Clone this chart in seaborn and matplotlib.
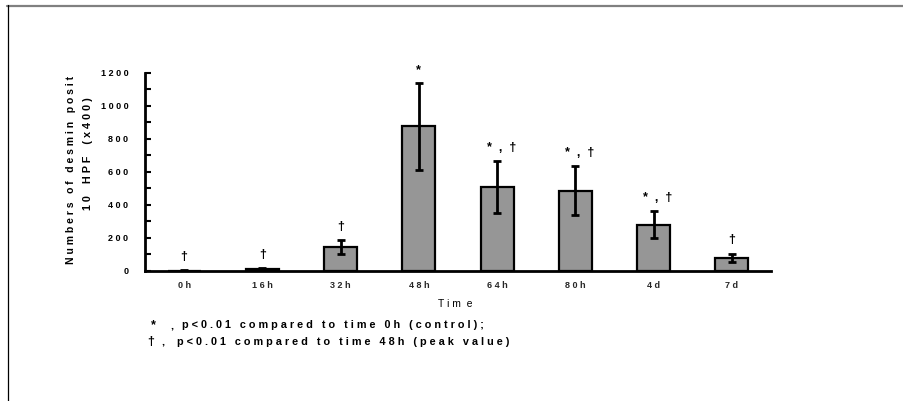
import matplotlib
matplotlib.use("Agg")
import matplotlib.pyplot as plt
import seaborn as sns
import numpy as np
from matplotlib.lines import Line2D
from matplotlib.ticker import MultipleLocator

categories = ["0h", "16h", "32h", "48h", "64h", "80h", "4d", "7d"]
values = [2, 15, 145, 875, 510, 487, 280, 80]
errors = [2, 5, 43, 262, 156, 148, 83, 25]
annotations = ["†", "†", "†", "*", "*  ,  †", "*  ,  †", "*  ,  †", "†"]
ytick_values = [0, 200, 400, 600, 800, 1000, 1200]
ylabel_lines = ["Numbers of desmin posit", "10 HPF (x400)"]
xlabel_text = "T i m  e"
footnote_marks = ["*", "†"]
footnote_texts = ["p<0.01 compared to time 0h (control);",
                  "p<0.01 compared to time 48h (peak value)"]


def spaced(s, sep=" ", word_sep="   "):
    return word_sep.join(sep.join(w) for w in s.split(" "))


sns.set_theme(style="white")
plt.rcParams['font.family'] = ['Liberation Sans', 'DejaVu Sans']

fig = plt.figure(figsize=(9.04, 4.01), dpi=100)
ax = fig.add_axes([145/904, 1-271/401, (771-145)/904, (271-72.7)/401])

sns.barplot(x=[spaced(c) for c in categories], y=values, color="#969696",
            saturation=1, width=0.42, edgecolor="black", linewidth=1.6,
            errorbar=None, ax=ax)
ax.errorbar(np.arange(len(values)), values, yerr=errors, fmt="none",
            ecolor="black", elinewidth=2.0, capsize=2.6, capthick=2.0, zorder=5)

for i, (v, e, t) in enumerate(zip(values, errors, annotations)):
    ax.annotate(t, xy=(i, v + e), xytext=(3 if "," in t else 0, 9.5),
                textcoords="offset points", ha="center", va="center",
                fontsize=9, fontweight="bold", color="black")

ax.set_xlim(-0.5, len(categories) - 0.5)
ax.set_ylim(0, 1200)
ax.set_yticks(ytick_values)
ax.set_yticklabels([spaced(str(v)) for v in ytick_values], fontsize=6.5,
                   fontweight="bold")
ax.yaxis.set_minor_locator(MultipleLocator(100))
ax.tick_params(axis="y", which="both", direction="in", length=4, width=1.5,
               left=True, pad=12, colors="black")
ax.tick_params(axis="x", length=0, pad=7)
for lab in ax.get_xticklabels():
    lab.set_fontsize(6.5)
    lab.set_fontweight("bold")

for s in ["top", "right"]:
    ax.spines[s].set_visible(False)
for s in ["left", "bottom"]:
    ax.spines[s].set_color("black")
    ax.spines[s].set_linewidth(2.0)

# y label (two rotated lines)
fig.text(70.7/904, 1-169.5/401, spaced(ylabel_lines[0]), rotation=90,
         fontsize=7.5, fontweight="bold", ha="center", va="center", color="black")
fig.text(88/904, 1-153.5/401, spaced(ylabel_lines[1], word_sep="    "), rotation=90,
         fontsize=7.8, fontweight="bold", ha="center", va="center", color="black")

# x label
fig.text(455/904, 1-304/401, xlabel_text, fontsize=7.5, ha="center",
         va="center", color="black")

# footnotes
mark_x = [153, 151]
comma_x = [172, 163]
text_x = [182, 177]
rows_y = [325, 342]
for k in range(2):
    yy = 1 - rows_y[k]/401
    fig.text(mark_x[k]/904, yy, footnote_marks[k], fontsize=9, fontweight="bold",
             ha="center", va="center", color="black")
    fig.text(comma_x[k]/904, yy, ",", fontsize=8, fontweight="bold",
             ha="center", va="center", color="black")
    fig.text(text_x[k]/904, yy, spaced(footnote_texts[k], word_sep="   "),
             fontsize=7.8, fontweight="bold", ha="left", va="center", color="black")

fig.add_artist(Line2D([7/904, 903/904], [1-5.5/401, 1-5.5/401], color="#808080", lw=1.6))
fig.add_artist(Line2D([7.5/904, 7.5/904], [0, 1-5/401], color="black", lw=0.9))

fig.savefig("out.png", dpi=100)
